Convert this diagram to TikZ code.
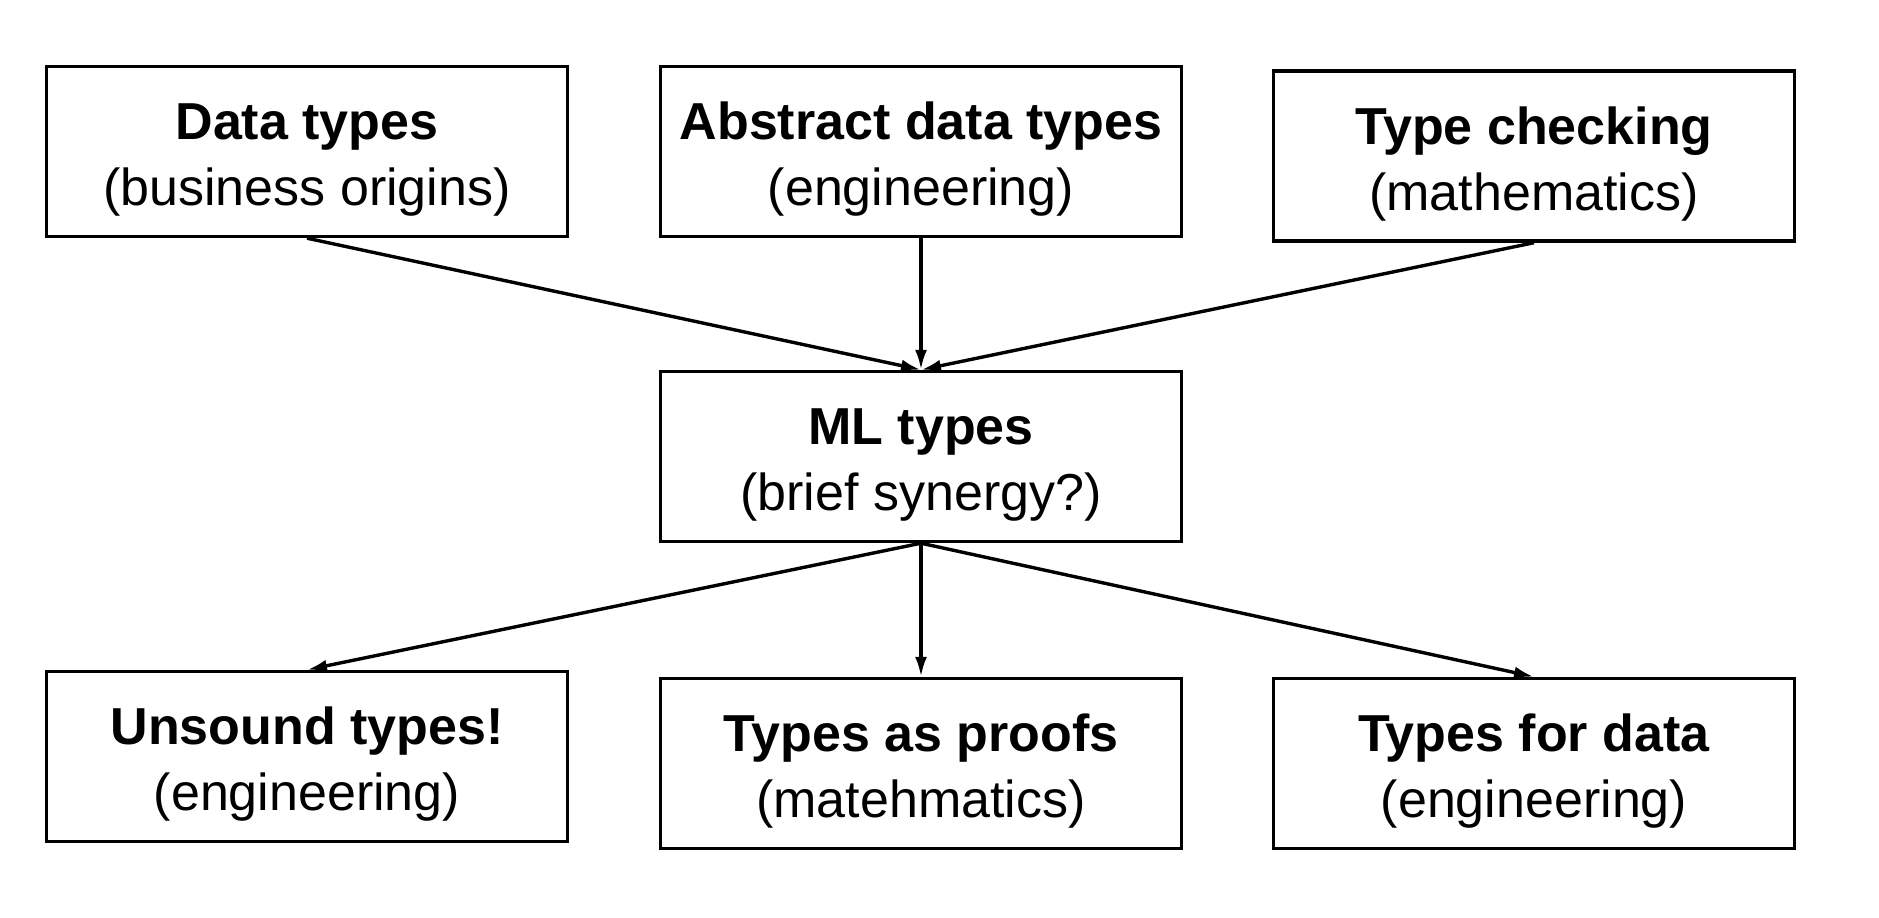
\documentclass[tikz,border=0pt]{standalone}
\usepackage{fontspec}
\setmainfont{Liberation Sans}
\usetikzlibrary{arrows.meta}

\begin{document}
\begin{tikzpicture}[x=1pt, y=1pt, ->, >={Latex[length=20pt,width=12pt]}, line width=3.4pt]
    \tikzstyle{box}=[draw, rectangle, minimum width=521pt, minimum height=170pt, inner sep=0pt, align=center, text height=120pt, text depth=12pt, font=\fontsize{52}{66}\selectfont]

    \useasboundingbox (0,0) rectangle (1879,-918);

% Nodes
    % Top row
    \node[box] (dt)  at (307,-151.5)  {\textbf{Data types}\\(business origins)};
    \node[box] (adt) at (921,-151.5)  {\textbf{Abstract data types}\\(engineering)};
    \node[box] (tc)  at (1534,-156)   {\textbf{Type checking}\\(mathematics)};

    % Middle node
    \node[box] (ml)  at (921,-456.5)  {\textbf{ML types}\\(brief synergy?)};

    % Bottom row
    \node[box] (ut)  at (307,-756.5)  {\textbf{Unsound types!}\\(engineering)};
    \node[box] (tp)  at (921,-763.5)  {\textbf{Types as proofs}\\(matehmatics)};
    \node[box] (td)  at (1534,-763.5) {\textbf{Types for data}\\(engineering)};

% Paths
    % Top row into ML types
    \foreach \source in {dt,adt,tc}
        \path (\source.south) edge (ml.north);

    % ML types out to the bottom row
    \foreach \dest in {ut,tp,td}
        \path (ml.south) edge (\dest.north);

\end{tikzpicture}
\end{document}
